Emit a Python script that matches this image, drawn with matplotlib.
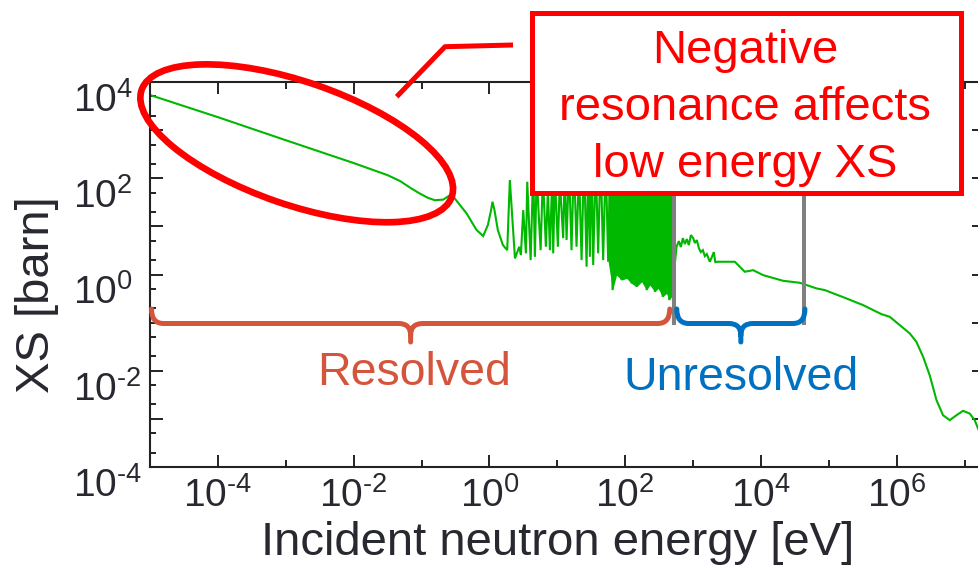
import numpy as np
import matplotlib
matplotlib.use('Agg')
import matplotlib.pyplot as plt
from matplotlib.patches import Ellipse, Rectangle, PathPatch
from matplotlib.path import Path
from matplotlib.ticker import FixedLocator, FuncFormatter, LogLocator, NullFormatter

plt.rcParams['font.family'] = ['Liberation Sans', 'DejaVu Sans']
plt.rcParams['mathtext.fontset'] = 'custom'
plt.rcParams['mathtext.rm'] = 'Liberation Sans'
plt.rcParams['mathtext.it'] = 'Liberation Sans:italic'
plt.rcParams['mathtext.bf'] = 'Liberation Sans:bold'

# ---------------- data (energy in eV, cross section in barn) ----------------
thermal_E = [1e-5, 1e-4, 1e-3, 1e-2, 0.0316, 0.048, 0.07, 0.0946, 0.125, 0.157, 0.209, 0.26, 0.30, 0.461, 0.647, 0.81]
thermal_xs = [5370, 1860, 617, 207, 116, 88, 62, 48, 39, 35, 36, 44, 40, 18.6, 8.4, 6.3]

res_E = [0.95, 1.06, 1.11, 1.186, 1.33, 1.58, 1.83, 2.0, 2.38, 2.75, 2.91, 3.15, 3.45, 3.61, 4.05,
         4.42, 4.68, 4.96, 5.68, 6.14, 6.79, 7.28, 7.78, 8.41, 8.71, 9.22, 10.2, 10.9, 12.2, 12.9]
res_xs = [10.7, 22, 32.5, 22, 8.4, 4.1, 3.2, 92, 2.16, 3.77, 2.53, 21.8, 2.75, 84.6, 1.99,
          148, 2.33, 117, 3.2, 117, 3.77, 57, 3.2, 92, 2.75, 117, 3.77, 92, 5.7, 148]

dense_E = [13.7, 14.9, 16.2, 17.6, 19.2, 20.9, 22.8, 24.8, 27.0, 28.6,
           30.2, 32.0, 33.8, 36.8, 40.0, 43.5, 47.4, 51.6, 56.2, 60.5,
           65.2, 69.7, 74.6, 81.3, 88.5, 96.4, 105, 114, 124, 135,
           147, 160, 175, 190, 207, 219, 231, 252, 274, 290,
           306, 330, 356, 381, 407, 426, 445, 463, 482]
dense_xs = [5.2, 180, 3.2, 260, 3.77, 150, 1.99, 300, 1.45, 220,
            2.33, 280, 1.57, 240, 2.75, 300, 1.99, 260, 1.84, 320,
            0.474, 280, 0.97, 300, 0.766, 340, 0.83, 300, 0.653, 360,
            0.555, 320, 0.705, 380, 0.474, 300, 0.603, 360, 0.437, 320,
            0.514, 380, 0.343, 340, 0.404, 300, 0.294, 320, 0.343]

urr_E = [571, 618, 661, 708, 757, 810, 867, 929, 1005, 1064, 1138, 1217, 1303, 1393,
         1493, 1596, 1767, 1892, 2023, 2128, 2265, 4130, 5790, 7680, 10770, 21230, 37400]
urr_xs = [3.77, 4.94, 3.72, 5.71, 4.29, 5.45, 4.08, 6.59, 5.71, 4.5, 5.19, 3.54, 2.92, 3.21,
          2.41, 2.66, 1.84, 2.30, 2.92, 1.81, 1.84, 1.84, 1.14, 1.23, 0.97, 0.74, 0.672]

fast_E = [65900, 87300, 182000, 320000, 597000, 791000, 1.11e6, 1.56e6, 1.95e6, 2.45e6,
          3.07e6, 3.86e6, 4.82e6, 6.05e6, 7.6e6, 9.5e6, 1.19e7, 1.41e7, 1.62e7, 2.0e7]
fast_xs = [0.514, 0.474, 0.318, 0.231, 0.150, 0.132, 0.0887, 0.0596, 0.0399, 0.0195,
           0.008, 0.00245, 0.00119, 0.00094, 0.00119, 0.00147, 0.00129, 0.00094, 0.00058, 0.00028]

region_bounds = [520, 43000]          # resolved / unresolved upper limits (eV)
region_names = ['Resolved', 'Unresolved']
x_label_exps = [-4, -2, 0, 2, 4, 6]
x_minor_exps = [-3, -1, 1, 3, 5, 7]
y_exps = [-4, -3, -2, -1, 0, 1, 2, 3, 4]
y_label_exps = [-4, -2, 0, 2, 4]
note_lines = ['Negative', 'resonance affects', 'low energy XS']

# ---------------- style ----------------
GREEN = '#00b800'
RED = '#ff0000'
ORANGE = '#d5553c'
BLUE = '#0070c0'
GRAY = '#808080'
TXT = '#282830'

W, H = 979, 565
fig = plt.figure(figsize=(W / 100, H / 100), dpi=100)
ax = fig.add_axes([150 / W, (H - 467) / H, (985 - 150) / W, (467 - 82) / H])

E_all = thermal_E + res_E + dense_E + urr_E + fast_E
xs_all = thermal_xs + res_xs + dense_xs + urr_xs + fast_xs
ax.plot(E_all, xs_all, color=GREEN, lw=1.5, zorder=2, solid_joinstyle='miter')

# dense resonance block rendered as solid band above its lower envelope
valley_E = dense_E[::2]
valley_xs = dense_xs[::2]
k = valley_E.index(56.2)
ax.fill_between(valley_E[k:], valley_xs[k:], 400, color=GREEN, lw=0, zorder=2)

ax.set_xscale('log')
ax.set_yscale('log')
ax.set_xlim(1e-5, 2e7)
ax.set_ylim(1e-4, 1e4)

# region boundaries
ax.vlines(region_bounds, 0.09, 300, colors=GRAY, lw=2.9, zorder=3)


def sci(e):
    if e < 0:
        return r'$\mathregular{10^{\text{-}%d}}$' % (-e)
    return r'$\mathregular{10^{%d}}$' % e


ax.xaxis.set_major_locator(FixedLocator([10.0 ** e for e in x_label_exps]))
ax.xaxis.set_minor_locator(FixedLocator([10.0 ** e for e in x_minor_exps]))
ax.xaxis.set_major_formatter(FuncFormatter(lambda v, p: sci(int(round(np.log10(v))))))
ax.xaxis.set_minor_formatter(NullFormatter())

ax.yaxis.set_major_locator(FixedLocator([10.0 ** e for e in y_exps]))
ax.yaxis.set_minor_locator(LogLocator(base=10, subs=(2.0, 5.0), numticks=30))


def yfmt(v, p):
    e = int(round(np.log10(v)))
    return sci(e) if e in y_label_exps else ''


ax.yaxis.set_major_formatter(FuncFormatter(yfmt))
ax.yaxis.set_minor_formatter(NullFormatter())

ax.tick_params(which='both', direction='in', top=True, right=True, width=1.4,
               color='#222222', labelcolor=TXT, labelsize=28)
ax.tick_params(axis='x', which='major', length=8.6, pad=7)
ax.tick_params(axis='x', which='minor', length=5)
ax.tick_params(axis='y', which='major', length=9.4, pad=55.4)
ax.tick_params(axis='y', which='minor', length=4.3)
for lbl in ax.yaxis.get_majorticklabels():
    lbl.set_ha('left')
    lbl.set_va('top')
for s in ax.spines.values():
    s.set_linewidth(1.5)
    s.set_color('#222222')

fig.text(558 / W, (H - 555) / H, 'Incident neutron energy [eV]', ha='center', va='baseline',
         fontsize=34, color=TXT)
fig.text(37 / W, (H - 294.5) / H, 'XS [barn]', rotation=90, ha='center', va='center',
         fontsize=34, color=TXT)

# ---------------- overlay annotations (pixel coordinates) ----------------
ov = fig.add_axes([0, 0, 1, 1])
ov.set_xlim(0, W)
ov.set_ylim(H, 0)
ov.axis('off')


def to_px(E):
    return ax.transData.transform((E, 1.0))[0]


def brace(x0, x1, color, y_end=309, y_mid=323.5, y_tip=342, r=12):
    xc = 0.5 * (x0 + x1)
    verts = [(x0, y_end), (x0, y_mid), (x0 + r, y_mid), (xc - r, y_mid), (xc, y_mid), (xc, y_mid + r), (xc, y_tip),
             (x1, y_end), (x1, y_mid), (x1 - r, y_mid), (xc + r, y_mid), (xc, y_mid), (xc, y_mid + r)]
    codes = [Path.MOVETO, Path.CURVE3, Path.CURVE3, Path.LINETO, Path.CURVE3, Path.CURVE3, Path.LINETO,
             Path.MOVETO, Path.CURVE3, Path.CURVE3, Path.LINETO, Path.CURVE3, Path.CURVE3]
    ov.add_patch(PathPatch(Path(verts, codes), fill=False, ec=color, lw=3.6, capstyle='round', joinstyle='round'))
    return xc


xc1 = brace(to_px(1e-5) + 1.5, to_px(region_bounds[0]) - 4, ORANGE)
xc2 = brace(to_px(region_bounds[0]) + 3, to_px(region_bounds[1]) + 1, BLUE)
ov.text(xc1 + 3, 385, region_names[0], ha='center', va='baseline', fontsize=33.5, color=ORANGE)
ov.text(xc2, 390, region_names[1], ha='center', va='baseline', fontsize=33.5, color=BLUE)

ov.add_patch(Ellipse((296.7, 143.3), 328, 123, angle=19, fill=False, ec=RED, lw=4.8))
ov.plot([396.7, 445, 513], [96.7, 46.7, 45], color=RED, lw=3.6, solid_capstyle='butt')
ov.add_patch(Rectangle((532.5, 12.5), 428.5, 180, fc='white', ec=RED, lw=3.6, zorder=4))
for txt, yb in zip(note_lines, [63.3, 120, 176.7]):
    ov.text(745, yb, txt, ha='center', va='baseline', fontsize=34, color=RED, zorder=5)

fig.savefig('out.png', dpi=100)
